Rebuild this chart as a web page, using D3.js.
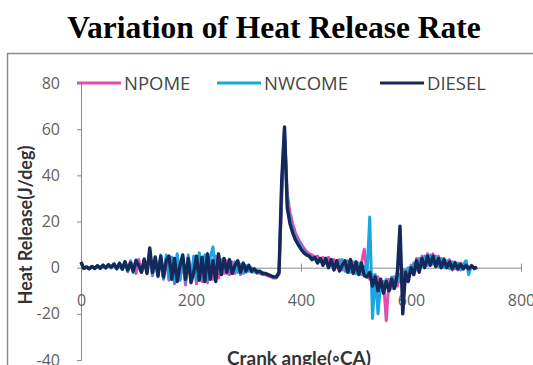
<!DOCTYPE html>
<html>
<head>
<meta charset="utf-8">
<script src="https://cdn.jsdelivr.net/npm/d3@7"></script>
<style>
  body { margin: 0; background: #fff; }
  svg { display: block; }
</style>
</head>
<body>
<svg id="chart" width="533" height="365"></svg>
<script>
// crank angle step between samples (deg)
const angleStep = 5;

const seriesNames = ["NPOME", "NWCOME", "DIESEL"];
const seriesColors = ["#e24cb2", "#1aa7e0", "#14295a"];

const xTicks = [0, 200, 400, 600, 800];
const yTicks = [-40, -20, 0, 20, 40, 60, 80];

// heat release (J/deg) every 5 deg, 0..720
const npome = [
  2, -0.3, 0.3, -0.5, 0.5, -0.4, 0.8, -0.2, 1.1, -0.3, 1.3, -0.1, 1.6, -0.5, 2, -0.7,
  2.5, -1.8, 3, 0.5, -2.5, 3.5, -2, 4, -1, 6, -3.5, 4, -4, 4.5,
  -5, 4.5, -5.5, 3.5, -7, 5, -5.5, 3.5, -7.5, 4.5, -6, 4, -7, 5, -6, 4.5, -6.5, 3.5, -5, 5, -4.5,
  3.5, -2.5, 3, -3, 2.5, -2.5, 1.5, -3, 1, -2, 0, -2, -1, -2.5, -2, -3, -3, -3.5, -4, -4.5, -4.5,
  -3, 30, 59, 32, 24, 19, 15, 12.5, 10.5, 8.5, 7, 6, 5.5, 4.5, 5, 3, 4.5, 2, 4.5, 1,
  3.5, 0, 3.5, -1, 3, -1.5, 3, -2, 2.5, -2.5, 2, 8, -3,
  -5, -3, -9, -4, -10, -6, -23, -5, -9, -4, -8, -3, -7, -1, -4,
  1, -3, 4, -1, 5, 1, 6, 2, 6, 1, 5, 0.5, 4, 0, 3.5, -1, 2.5, -1, 2, -0.5, 2.5, -1, 1, -0.5, 0
];

const nwcome = [
  2.2, -0.3, 0.4, -0.5, 0.6, -0.4, 0.9, -0.3, 1.2, -0.2, 1.4, 0, 1.8, -0.5, 2.1, -0.8,
  2.8, -1.6, 2.6, -2.2, 3.4, 0, -1.8, 3.8, -2.4, 7, -3.2, 4.8, -3.8, 5.5,
  -4.5, 5.5, -5, 4.5, -6, 6, -5, 4.5, -6, 5.5, -5, 5, -5.5, 6.5, -4.5, 5.5, -5.5, 4.5, 9, -5, 5,
  -3, 3.5, -2.5, 3, -2.5, 2.5, -2, 1.5, -2.5, 1, -1.5, 0, -2, -1, -2.5, -2, -3, -3, -3.5, -4, -4,
  -2.5, 36, 60, 28, 21, 16, 13, 11, 9, 7, 6, 5, 4, 4.5, 2.5, 4, 1.5, 4, 0.5, 3.5,
  -0.5, 3, -1, 3.5, -1.5, 3, -2, 2.5, -2.5, 2, -3, 0.5, -3,
  22, -22, -3, -20, -6, -9, -5, -10, -4, -8, -2, -6, -1, -4, 0,
  -2, 2, -1, 4, 0.5, 5, 1, 5.5, 1.5, 5, 0.5, 4, 0, 3, -0.5, 2.5, -0.5, 2, -1, 1.5, 3, -3, 1, -0.5, 0.2
];

const diesel = [
  2.5, -0.3, 0.3, -0.5, 0.5, -0.3, 0.8, -0.2, 1, 0, 1.2, 0.2, 1.5, -0.3, 1.8, -0.6,
  2.5, -1, 2, -1.5, 3, 1, -2, 3.5, -2.5, 8.5, -2, 4.5, -3.5, 5,
  -4, 3, 5, -5, 4, -6, 1, 5.5, -5, 4, -6.5, -2, 5, -5.5, 4.5, -6, 6, -5, 3, -6, 6,
  -3, 4, -2, 3.5, -2.5, 1, 3, -2, 2, -1.5, 1, -1.5, -0.5, -2, -1.5, -2.5, -2.5, -3, -3.5, -4, -4,
  -2, 38, 61, 26, 19, 15, 12, 10, 8, 6.5, 5.5, 5, 3.5, 4.5, 2, 4, 1, 4, 0, 3.5,
  -1, 3, -1.5, 1, 3, -2, 3.5, -2.5, 2.5, -3, 2, -3.5, -4,
  -2, -8, -4, -10, -5, -11, -6, -10, -5, -9, -3, 18, -20, -2, -6,
  0, -3, 3, -2, 4, 0, 5, 1, 5, 0.5, 4, 0, 3.5, 0, 2.5, -0.5, 2, -0.5, 1.5, -0.5, 1, -0.5, 0.8, -0.3, 0.3
];

const allSeries = [npome, nwcome, diesel];

const svg = d3.select("#chart");

// title
svg.append("text")
  .attr("x", 274).attr("y", 38)
  .attr("text-anchor", "middle")
  .style("font-family", "'Liberation Serif', 'Times New Roman', serif")
  .style("font-weight", "bold")
  .style("font-size", "31.5px")
  .text("Variation of Heat Release Rate");

// chart area border (cropped on right and bottom)
svg.append("rect")
  .attr("x", 7.5).attr("y", 53.5)
  .attr("width", 600).attr("height", 400)
  .attr("fill", "none")
  .attr("stroke", "#8c8c8c")
  .attr("stroke-width", 1.5);

const x = d3.scaleLinear().domain([0, 800]).range([81, 521]);
const y = d3.scaleLinear().domain([-40, 80]).range([360, 83]);

const axisColor = "#8a8a8a";
const labelFont = "'Open Sans', 'Liberation Sans', sans-serif";

// y axis
const yAxis = svg.append("g")
  .attr("transform", "translate(81,0)")
  .call(d3.axisLeft(y).tickValues(yTicks).tickSize(4).tickPadding(17).tickFormat(d => String(d)));
yAxis.select(".domain").attr("stroke", axisColor);
yAxis.selectAll(".tick line").attr("stroke", axisColor);
yAxis.selectAll(".tick text")
  .attr("fill", "#5f5f5f")
  .style("font-family", labelFont)
  .style("font-size", "16px");

// x axis at y=0, labels set lower like the original
const xAxis = svg.append("g")
  .attr("transform", `translate(0,${y(0)})`)
  .call(d3.axisBottom(x).tickValues(xTicks).tickSize(0).tickFormat(d => String(d)));
xAxis.select(".domain").attr("stroke", axisColor);
xAxis.selectAll(".tick line").remove();
xAxis.selectAll(".tick").append("line")
  .attr("y1", -4).attr("y2", 4)
  .attr("stroke", axisColor);
xAxis.selectAll(".tick text")
  .attr("y", 38)
  .attr("dy", 0)
  .attr("fill", "#5f5f5f")
  .style("font-family", labelFont)
  .style("font-size", "16px");

// series lines
const line = d3.line()
  .x((d, i) => x(i * angleStep))
  .y(d => y(d));

svg.append("g").selectAll("path")
  .data(allSeries)
  .join("path")
  .attr("d", line)
  .attr("fill", "none")
  .attr("stroke", (d, i) => seriesColors[i])
  .attr("stroke-width", (d, i) => i === 2 ? 3.4 : 3)
  .attr("stroke-linejoin", "round");

// legend
const legendX = [77, 217, 380];
const legend = svg.append("g");
seriesNames.forEach((name, i) => {
  legend.append("line")
    .attr("x1", legendX[i]).attr("x2", legendX[i] + 44)
    .attr("y1", 83).attr("y2", 83)
    .attr("stroke", seriesColors[i])
    .attr("stroke-width", 3);
  legend.append("text")
    .attr("x", legendX[i] + 47).attr("y", 89.5)
    .attr("fill", "#454545")
    .style("font-family", labelFont)
    .style("font-size", "18.5px")
    .text(name);
});

// axis titles
svg.append("text")
  .attr("transform", "translate(32,225) rotate(-90)")
  .attr("text-anchor", "middle")
  .attr("fill", "#333")
  .style("font-family", "Lato, 'Open Sans', sans-serif")
  .style("font-weight", "bold")
  .style("font-size", "18px")
  .text("Heat Release(J/deg)");

svg.append("text")
  .attr("x", 299).attr("y", 365)
  .attr("text-anchor", "middle")
  .attr("fill", "#333")
  .style("font-family", "Lato, 'Open Sans', sans-serif")
  .style("font-weight", "bold")
  .style("font-size", "19px")
  .text("Crank angle(\u25E6CA)");
</script>
</body>
</html>
